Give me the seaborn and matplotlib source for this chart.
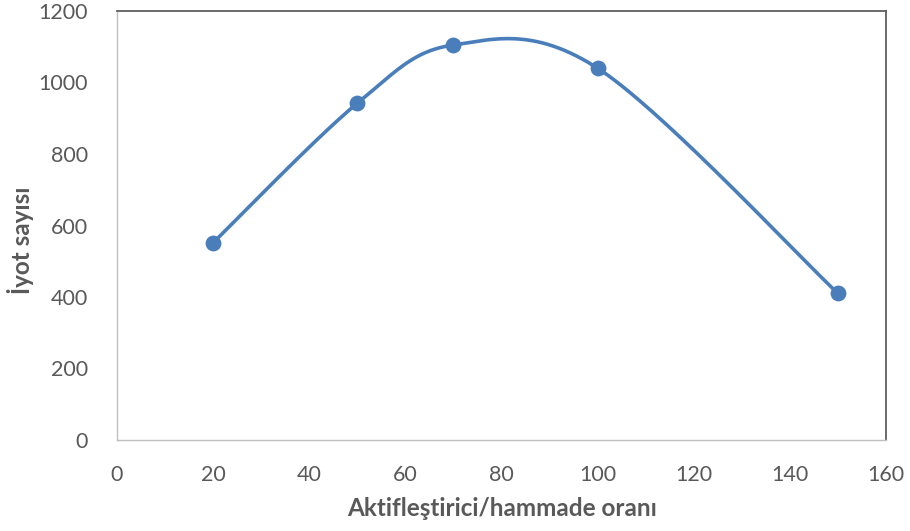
import numpy as np
import pandas as pd
import matplotlib
matplotlib.use("Agg")
import matplotlib.pyplot as plt
import seaborn as sns

# Data
x_vals = [20, 50, 70, 100, 150]
y_vals = [552, 942, 1105, 1040, 410]
x_ticks = [0, 20, 40, 60, 80, 100, 120, 140, 160]
y_ticks = [0, 200, 400, 600, 800, 1000, 1200]
x_label = "Aktifleştirici/hammade oranı"
y_label = "İyot sayısı"

sns.set_style("white")
plt.rcParams['font.family'] = ['Lato', 'DejaVu Sans']

color = "#4A7EBB"
text_color = "#595959"


def smooth(xs, ys, n=60):
    # Bezier (Catmull-Rom style) smoothing, like spreadsheet "smoothed line"
    P = np.column_stack([xs, ys]).astype(float)
    P_ext = np.vstack([P[0], P, P[-1]])
    out = []
    t = np.linspace(0, 1, n)
    for i in range(1, len(P_ext) - 2):
        p0, p1, p2, p3 = P_ext[i - 1], P_ext[i], P_ext[i + 1], P_ext[i + 2]
        c1 = p1 + (p2 - p0) / 6.0
        c2 = p2 - (p3 - p1) / 6.0
        seg = ((1 - t)[:, None] ** 3 * p1 + 3 * ((1 - t) ** 2 * t)[:, None] * c1
               + 3 * ((1 - t) * t ** 2)[:, None] * c2 + (t ** 3)[:, None] * p2)
        out.append(seg if i == 1 else seg[1:])
    return np.vstack(out)


curve = smooth(x_vals, y_vals)
df_curve = pd.DataFrame({"x": curve[:, 0], "y": curve[:, 1]})
df_pts = pd.DataFrame({"x": x_vals, "y": y_vals})

fig = plt.figure(figsize=(9.10, 5.31), dpi=100)
ax = fig.add_axes([117 / 910, 91 / 531, 769 / 910, 429 / 531])

sns.lineplot(data=df_curve, x="x", y="y", ax=ax, color=color, linewidth=2.6,
             sort=False, estimator=None)
sns.scatterplot(data=df_pts, x="x", y="y", ax=ax, color=color, s=130,
                edgecolor=color, linewidth=0, zorder=5)

ax.set_xlim(0, 160)
ax.set_ylim(0, 1200)
ax.set_xticks(x_ticks)
ax.set_yticks(y_ticks)
ax.tick_params(axis="both", length=0, labelsize=15.5, labelcolor=text_color)
ax.tick_params(axis="x", pad=18)
ax.tick_params(axis="y", pad=21)

ax.set_xlabel(x_label, fontsize=17.5, fontweight="bold", color=text_color)
ax.set_ylabel(y_label, fontsize=17.5, fontweight="bold", color=text_color)
ax.xaxis.set_label_coords((502 - 117) / 769, -(508 - 440) / 429)
ax.yaxis.set_label_coords(-(117 - 21) / 769, (440 - 240) / 429)
ax.xaxis.label.set_va("center")
ax.yaxis.label.set_va("center")

for side in ["left", "bottom"]:
    ax.spines[side].set_color("#BFBFBF")
    ax.spines[side].set_linewidth(1.0)
for side in ["top", "right"]:
    ax.spines[side].set_color("#5F5F5F")
    ax.spines[side].set_linewidth(1.3)
    ax.spines[side].set_visible(True)

fig.savefig("out.png", dpi=100)
